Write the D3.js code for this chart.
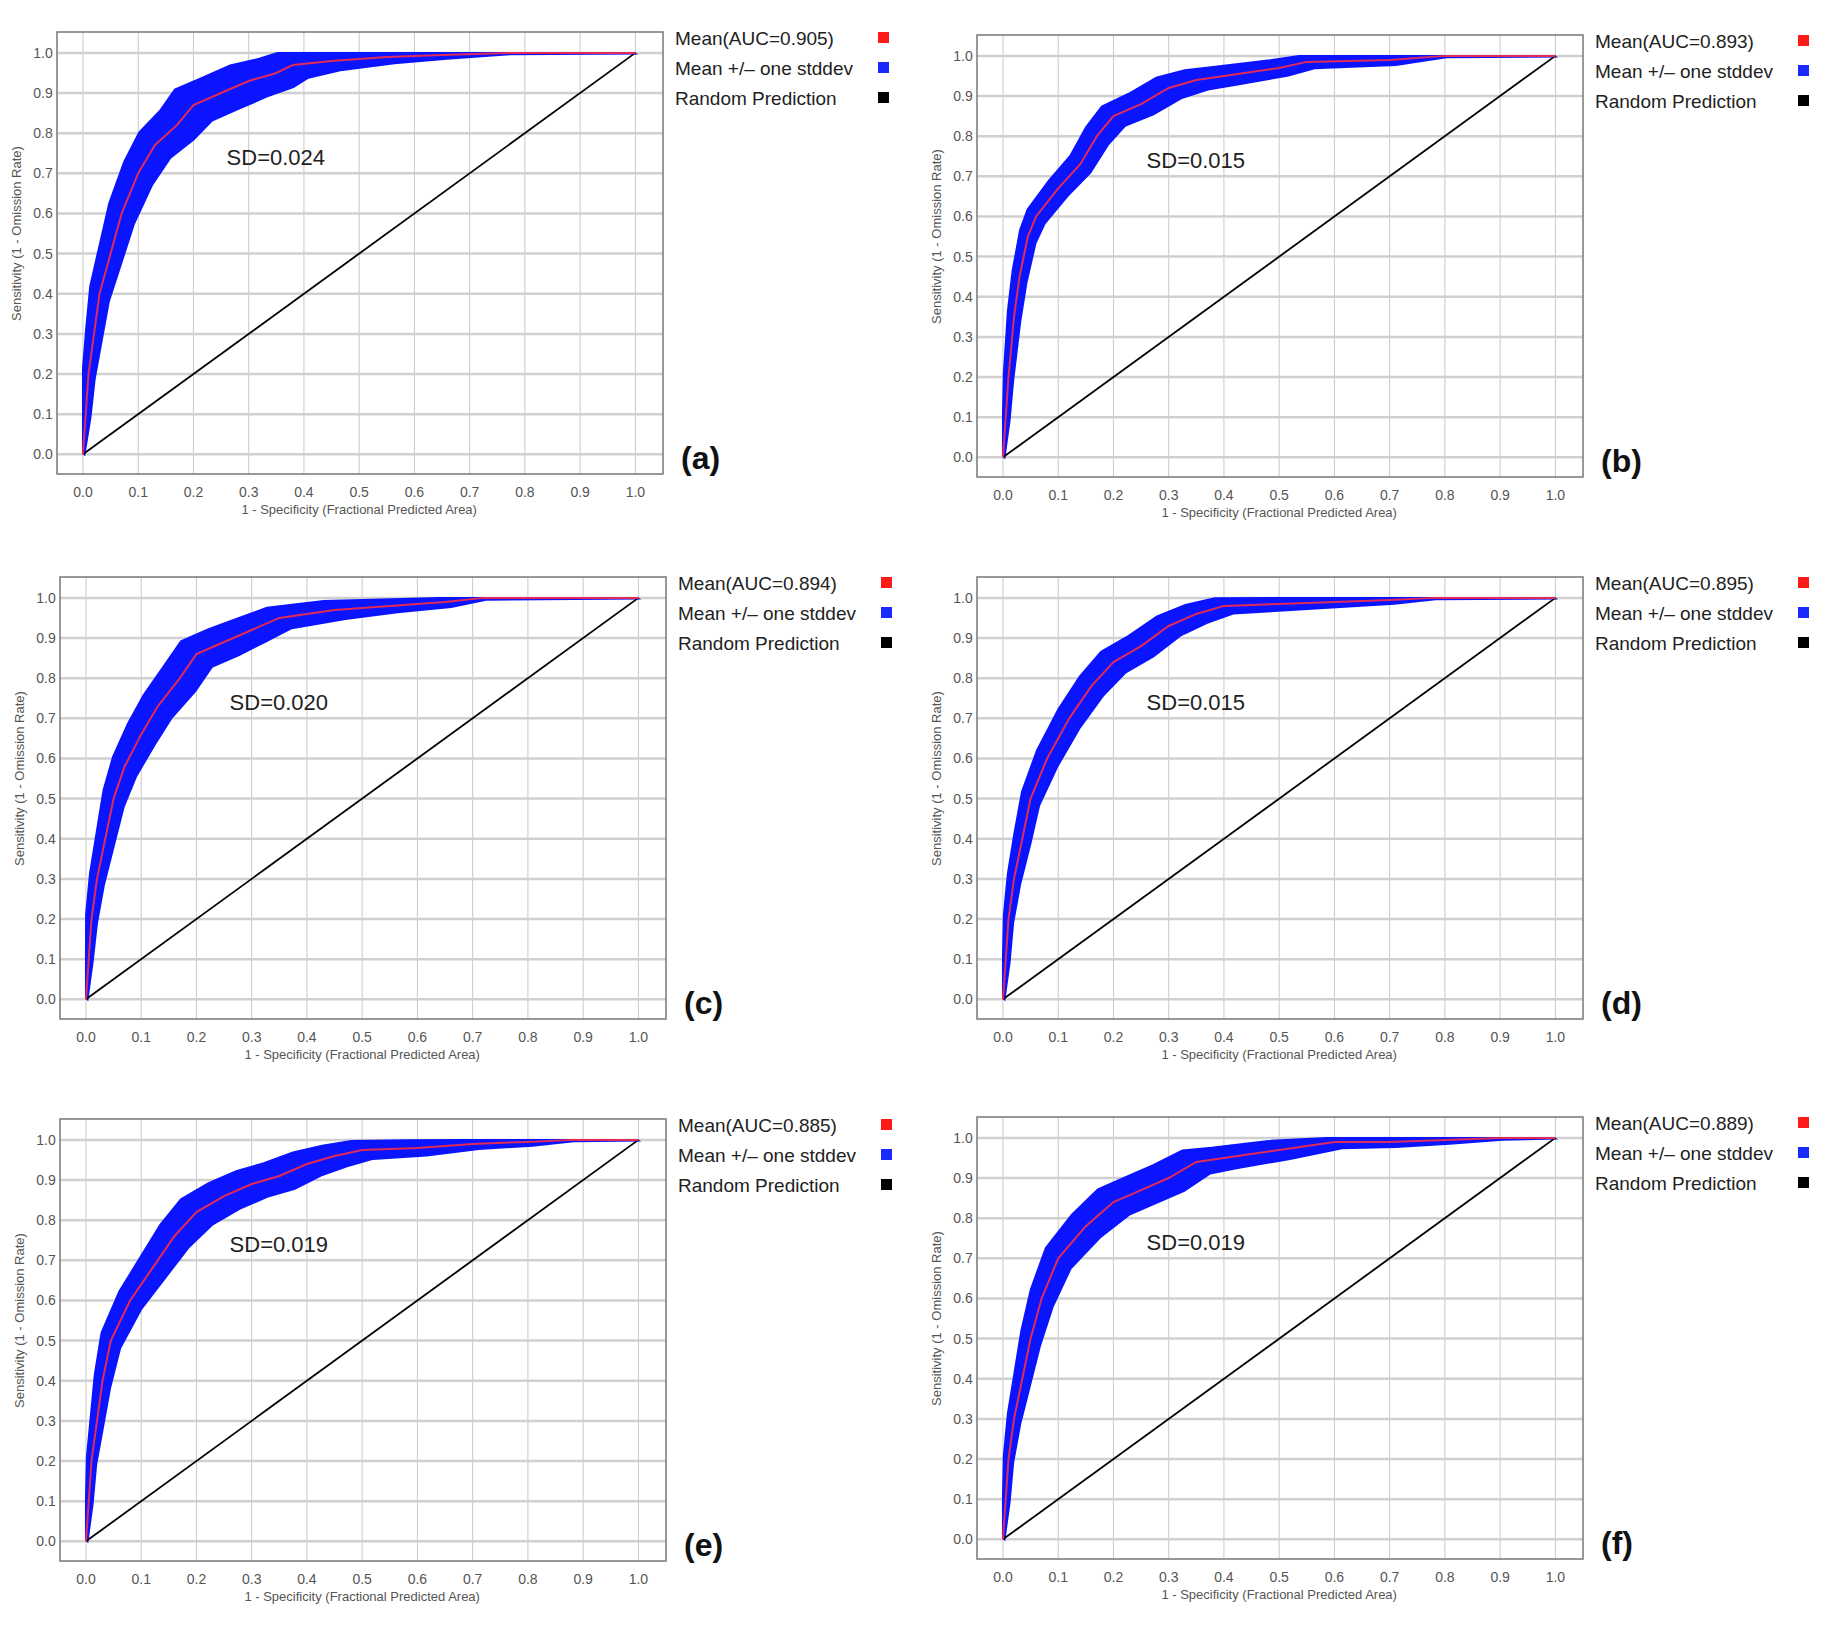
<!DOCTYPE html>
<html><head><meta charset="utf-8">
<script src="https://cdn.jsdelivr.net/npm/d3@7"></script>
<style>body{margin:0;background:#fff}</style>
</head><body>
<div id="plot"></div>
<script>
var width = 1844;
var height = 1626;

var panelNames = ['(a)', '(b)', '(c)', '(d)', '(e)', '(f)'];
var aucLabels = ['Mean(AUC=0.905)', 'Mean(AUC=0.893)', 'Mean(AUC=0.894)', 'Mean(AUC=0.895)', 'Mean(AUC=0.885)', 'Mean(AUC=0.889)'];
var sdLabels = ['SD=0.024', 'SD=0.015', 'SD=0.020', 'SD=0.015', 'SD=0.019', 'SD=0.019'];
var ticks = [0, 0.1, 0.2, 0.3, 0.4, 0.5, 0.6, 0.7, 0.8, 0.9, 1.0];

// mean ROC curves: [fpr, sensitivity]
var meanA = [[0,0],[0.005,0.1],[0.01,0.2],[0.02,0.3],[0.03,0.4],[0.05,0.5],[0.07,0.6],[0.1,0.7],[0.13,0.77],[0.17,0.82],[0.2,0.87],[0.25,0.9],[0.3,0.93],[0.35,0.95],[0.38,0.97],[0.45,0.98],[0.55,0.99],[0.65,0.995],[0.77,1],[1,1]];
var meanB = [[0,0],[0.005,0.1],[0.01,0.2],[0.02,0.35],[0.03,0.45],[0.045,0.55],[0.06,0.6],[0.1,0.67],[0.14,0.73],[0.17,0.8],[0.2,0.85],[0.25,0.88],[0.3,0.92],[0.35,0.94],[0.4,0.95],[0.5,0.97],[0.55,0.985],[0.7,0.99],[0.8,1],[1,1]];
var meanC = [[0,0],[0.005,0.1],[0.01,0.2],[0.02,0.3],[0.035,0.4],[0.05,0.5],[0.07,0.58],[0.1,0.66],[0.13,0.73],[0.17,0.8],[0.2,0.86],[0.25,0.89],[0.3,0.92],[0.35,0.95],[0.45,0.97],[0.55,0.98],[0.65,0.99],[0.72,1],[1,1]];
var meanD = [[0,0],[0.005,0.1],[0.01,0.2],[0.02,0.3],[0.035,0.4],[0.05,0.5],[0.08,0.6],[0.12,0.7],[0.16,0.78],[0.2,0.84],[0.25,0.88],[0.3,0.93],[0.35,0.96],[0.4,0.98],[0.5,0.985],[0.6,0.99],[0.7,0.995],[0.78,1],[1,1]];
var meanE = [[0,0],[0.005,0.1],[0.01,0.2],[0.02,0.3],[0.03,0.4],[0.045,0.5],[0.08,0.6],[0.12,0.68],[0.16,0.76],[0.2,0.82],[0.25,0.86],[0.3,0.89],[0.35,0.91],[0.4,0.94],[0.45,0.96],[0.5,0.975],[0.6,0.98],[0.7,0.99],[0.8,0.995],[0.88,1],[1,1]];
var meanF = [[0,0],[0.005,0.1],[0.01,0.2],[0.02,0.3],[0.035,0.4],[0.05,0.5],[0.07,0.6],[0.1,0.7],[0.15,0.78],[0.2,0.84],[0.25,0.87],[0.3,0.9],[0.35,0.94],[0.4,0.95],[0.5,0.97],[0.6,0.99],[0.7,0.99],[0.8,0.995],[0.9,1],[1,1]];
var means = [meanA, meanB, meanC, meanD, meanE, meanF];

// half width of the +/- one stddev band, one value per mean point
var spreadA = [0.002,0.006,0.008,0.01,0.012,0.014,0.016,0.018,0.02,0.022,0.024,0.024,0.024,0.022,0.02,0.014,0.01,0.006,0.002,0.001];
var spreadB = [0.002,0.005,0.006,0.008,0.009,0.01,0.011,0.012,0.013,0.014,0.015,0.016,0.016,0.015,0.014,0.012,0.01,0.008,0.002,0.001];
var spreadC = [0.002,0.005,0.007,0.009,0.011,0.013,0.015,0.017,0.018,0.02,0.02,0.02,0.018,0.016,0.014,0.01,0.008,0.003,0.001];
var spreadD = [0.002,0.005,0.006,0.008,0.01,0.011,0.013,0.014,0.015,0.016,0.016,0.015,0.014,0.012,0.01,0.008,0.006,0.002,0.001];
var spreadE = [0.002,0.005,0.006,0.008,0.01,0.012,0.014,0.016,0.018,0.02,0.02,0.02,0.02,0.018,0.016,0.014,0.012,0.008,0.006,0.002,0.001];
var spreadF = [0.002,0.005,0.006,0.008,0.01,0.012,0.014,0.016,0.018,0.02,0.02,0.02,0.018,0.016,0.014,0.01,0.008,0.006,0.003,0.001];
var spreads = [spreadA, spreadB, spreadC, spreadD, spreadE, spreadF];

// frame top-left of each panel
var origins = [[57,32],[977,35],[60,577],[977,577],[60,1119],[977,1117]];
var frameW = 606;
var frameH = 442;

var canvas = d3.select('#plot').append('svg')
    .attr('width', width).attr('height', height)
    .style('font-family', 'Liberation Sans, Arial, sans-serif');

function drawPanel(i) {
    var ox = origins[i][0], oy = origins[i][1];
    var g = canvas.append('g').attr('transform', 'translate(' + ox + ',' + oy + ')');

    var x_scale = d3.scaleLinear().domain([-0.047, 1.05]).range([0, frameW]);
    var y_scale = d3.scaleLinear().domain([-0.049, 1.052]).range([frameH, 0]);

    // grid
    g.selectAll('line.vgrid').data(ticks).enter().append('line')
        .attr('x1', d => x_scale(d)).attr('x2', d => x_scale(d))
        .attr('y1', 0).attr('y2', frameH)
        .attr('stroke', '#c8c8c8').attr('stroke-width', 1);
    g.selectAll('line.hgrid').data(ticks).enter().append('line')
        .attr('y1', d => y_scale(d)).attr('y2', d => y_scale(d))
        .attr('x1', 0).attr('x2', frameW)
        .attr('stroke', '#d0d0d0').attr('stroke-width', 2.5);

    g.append('rect').attr('width', frameW).attr('height', frameH)
        .attr('fill', 'none').attr('stroke', '#777').attr('stroke-width', 1.5);

    // band
    var mean = means[i], sp = spreads[i];
    var upper = mean.map((d, k) => [Math.max(0, d[0] - sp[k] * 1.4), Math.min(1, d[1] + sp[k] * 1.6)]);
    var lower = mean.map((d, k) => [Math.min(1, d[0] + sp[k] * 1.4), Math.max(0, d[1] - sp[k] * 1.6)]);
    var poly = upper.concat(lower.slice().reverse());
    var line = d3.line().x(d => x_scale(d[0])).y(d => y_scale(d[1]));
    g.append('path').attr('d', line(poly) + 'Z')
        .attr('fill', '#0a14ff').attr('stroke', '#0a14ff').attr('stroke-width', 2);

    // random prediction
    g.append('path').attr('d', line([[0,0],[1,1]]))
        .attr('stroke', '#000').attr('stroke-width', 1.8).attr('fill', 'none');

    // mean
    g.append('path').attr('d', line(mean))
        .attr('stroke', '#e02a5a').attr('stroke-width', 2).attr('fill', 'none');

    // tick labels
    g.selectAll('text.xt').data(ticks).enter().append('text')
        .attr('x', d => x_scale(d)).attr('y', frameH + 23)
        .attr('text-anchor', 'middle').attr('font-size', 14).attr('fill', '#555')
        .text(d => d.toFixed(1));
    g.selectAll('text.yt').data(ticks).enter().append('text')
        .attr('x', -14).attr('y', d => y_scale(d) + 5)
        .attr('text-anchor', 'middle').attr('font-size', 14).attr('fill', '#555')
        .text(d => d.toFixed(1));

    g.append('text').attr('x', x_scale(0.5)).attr('y', frameH + 40)
        .attr('text-anchor', 'middle').attr('font-size', 13).attr('fill', '#555')
        .text('1 - Specificity (Fractional Predicted Area)');
    g.append('text').attr('transform', 'translate(-36,' + y_scale(0.55) + ') rotate(-90)')
        .attr('text-anchor', 'middle').attr('font-size', 13).attr('fill', '#555')
        .text('Sensitivity (1 - Omission Rate)');

    g.append('text').attr('x', x_scale(0.26)).attr('y', y_scale(0.72))
        .attr('font-size', 22).attr('fill', '#222').text(sdLabels[i]);

    // legend
    var legend = [[aucLabels[i], '#ff1a1a'], ['Mean +/\u2013 one stddev', '#1a2aff'], ['Random Prediction', '#000']];
    legend.forEach(function(l, k) {
        g.append('text').attr('x', frameW + 12).attr('y', 13 + k * 30)
            .attr('font-size', 19).attr('fill', '#222').text(l[0]);
        g.append('rect').attr('x', frameW + 215).attr('y', k * 30).attr('width', 11).attr('height', 11)
            .attr('fill', l[1]);
    });

    g.append('text').attr('x', frameW + 18).attr('y', frameH - 5)
        .attr('font-size', 32).attr('font-weight', 'bold').attr('fill', '#111').text(panelNames[i]);
}

for (var i = 0; i < 6; i++) drawPanel(i);
</script>
</body></html>
